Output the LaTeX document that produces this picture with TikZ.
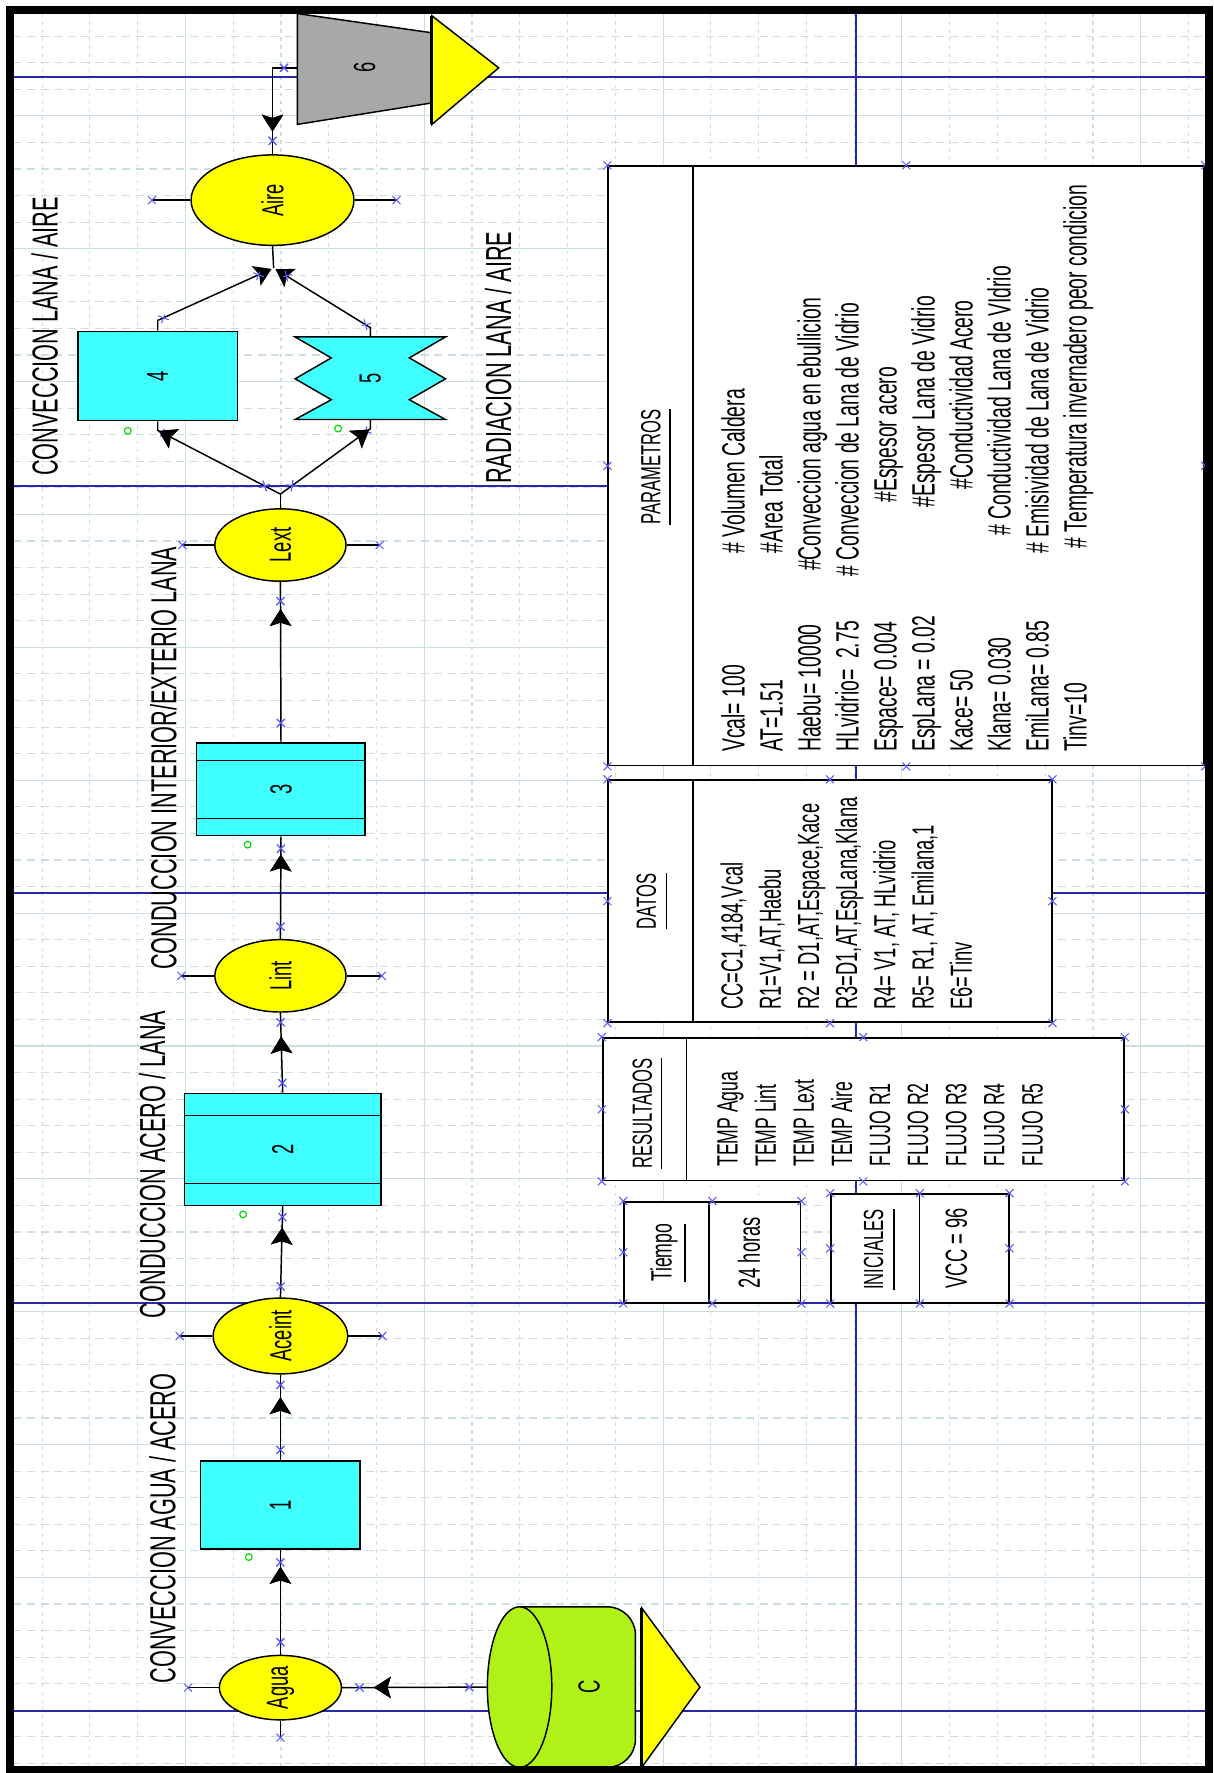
\documentclass[tikz,border=0pt]{standalone}
\usepackage{fontspec}
\usepackage{graphicx}
\usepackage{tikz}
\usetikzlibrary{arrows.meta}
\usetikzlibrary{decorations.markings}
\usetikzlibrary{shapes.geometric}

\newfontfamily\narrowfont[FakeStretch=0.6]{Liberation Sans}
\newcommand{\nsize}[1]{\narrowfont\fontsize{#1}{#1}\selectfont}

\definecolor{boxcyan}{RGB}{64,255,255}
\definecolor{nodeyellow}{RGB}{255,255,0}
\definecolor{tankgreen}{RGB}{176,242,24}
\definecolor{outgray}{RGB}{168,168,168}
\definecolor{pageblue}{RGB}{40,40,168}
\definecolor{gridgray}{RGB}{204,222,222}
\definecolor{pointblue}{RGB}{90,90,255}
\definecolor{flaggreen}{RGB}{0,215,0}

\tikzset{
	cpt/.pic={\draw[pointblue, line width=0.9pt, -] (-3.5,-3.5) -- (3.5,3.5) (-3.5,3.5) -- (3.5,-3.5);},
	arrowat/.style={postaction={decorate},
		decoration={markings, mark=at position #1 with {\arrow{Stealth[length=15pt,width=19pt,inset=3pt]}}}},
	cmarks/.style={postaction={decorate},
		decoration={markings,
			mark=at position 0.12 with {\draw[pointblue, line width=0.9pt, -] (-3.5,-3.5) -- (3.5,3.5) (-3.5,3.5) -- (3.5,-3.5);},
			mark=at position 0.88 with {\draw[pointblue, line width=0.9pt, -] (-3.5,-3.5) -- (3.5,3.5) (-3.5,3.5) -- (3.5,-3.5);}}}
}

\begin{document}
\begin{tikzpicture}[x=1pt, y=-1pt]
	
	\useasboundingbox (0,0) rectangle (1073,1568);
	\fill[white] (0,0) rectangle (1073,1568);
	
	\tikzstyle{gridsolid}=[gridgray, line width=1pt]
	\tikzstyle{griddash}=[gridgray, line width=1pt, dash pattern=on 7pt off 5pt]
	\tikzstyle{griddot}=[gridgray, line width=1pt, dash pattern=on 3pt off 4pt]
	\tikzstyle{pageline}=[pageblue, line width=1.6pt]
	\tikzstyle{ell}=[ellipse, draw, fill=nodeyellow, line width=1.3pt, inner sep=0pt, font=\nsize{27}]
	\tikzstyle{blk}=[rectangle, draw, fill=boxcyan, line width=1.3pt, inner sep=0pt, font=\nsize{27}]
	\tikzstyle{conn}=[line width=1.3pt]
	\tikzstyle{stub}=[line width=1.3pt]
	\tikzstyle{flag}=[flaggreen, line width=1pt]
	\tikzstyle{tbox}=[rectangle, draw, fill=white, line width=1.6pt, inner sep=0pt]
	\tikzstyle{ttl}=[rotate=90, anchor=base, inner sep=0pt, font=\nsize{24.5}]
	\tikzstyle{tmid}=[rotate=90, anchor=base, inner sep=0pt, font=\nsize{27}]
	\tikzstyle{lbl}=[rotate=90, anchor=base west, inner sep=0pt, font=\nsize{32}]
	\tikzstyle{ptxt}=[rotate=90, anchor=base west, inner sep=0pt, font=\nsize{28.5}]
	\tikzstyle{dtxt}=[rotate=90, anchor=base west, inner sep=0pt, font=\nsize{27}]
	\tikzstyle{rtxt}=[rotate=90, anchor=base west, inner sep=0pt, font=\nsize{26}]
	
	% grid
	\foreach \k in {-3,...,21} {
		\pgfmathsetmacro{\gx}{164+42.24*\k}
		\pgfmathtruncatemacro{\gm}{mod(\k+15,5)}
		\ifnum\gm=0
			\draw[gridsolid] (\gx,12) -- (\gx,1562);
		\else
			\draw[griddot] (\gx,12) -- (\gx,1562);
		\fi
	}
	\foreach \k in {-48,...,17} {
		\pgfmathsetmacro{\gy}{1160+23.5*\k}
		\pgfmathtruncatemacro{\gm}{mod(\k+50,5)}
		\ifnum\gm=0
			\draw[gridsolid] (12,\gy) -- (1066,\gy);
		\else
			\draw[griddash] (12,\gy) -- (1066,\gy);
		\fi
	}
	\foreach \py in {68,430,790,1152,1513} {
		\draw[pageline] (12,\py) -- (1066,\py);
	}
	\draw[pageline] (757,12) -- (757,1562);
	
	% chain of nodes
	\node[ell, minimum width=108pt, minimum height=57pt] (ag) at (248,1492.5) {\rotatebox{90}{Agua}};
	\node[blk, minimum width=141pt, minimum height=78pt] (b1) at (248,1331) {\rotatebox{90}{1}};
	\node[ell, minimum width=119pt, minimum height=67pt] (ac) at (248,1181.5) {\rotatebox{90}{Aceint}};
	\node[blk, minimum width=174pt, minimum height=99pt] (b2) at (250,1016.5) {\rotatebox{90}{2}};
	\node[ell, minimum width=116pt, minimum height=64pt] (li) at (248,863) {\rotatebox{90}{Lint}};
	\node[blk, minimum width=149pt, minimum height=82pt] (b3) at (248.5,698) {\rotatebox{90}{3}};
	\node[ell, minimum width=116pt, minimum height=64pt] (le) at (248,482) {\rotatebox{90}{Lext}};
	\node[blk, minimum width=141pt, minimum height=79pt] (b4) at (139.5,332.5) {\rotatebox{90}{4}};
	\draw[fill=boxcyan, line width=1.3pt] (261,298) -- (394,298) -- (362,316.5) -- (394,335) -- (362,353.5) -- (394,371)
		-- (261,371) -- (293,353.5) -- (261,335) -- (293,316.5) -- cycle;
	\node[inner sep=0pt, minimum width=133pt, minimum height=73pt, font=\nsize{27}] (b5) at (327.5,334.5) {\rotatebox{90}{5}};
	\node[ell, minimum width=144pt, minimum height=80pt] (ai) at (241,177) {\rotatebox{90}{Aire}};
	
	\draw[line width=1.3pt] ([yshift=-20pt]b2.north west) -- ([yshift=-20pt]b2.north east);
	\draw[line width=1.3pt] ([yshift=20pt]b2.south west) -- ([yshift=20pt]b2.south east);
	\draw[line width=1.3pt] ([yshift=-16pt]b3.north west) -- ([yshift=-16pt]b3.north east);
	\draw[line width=1.3pt] ([yshift=16pt]b3.south west) -- ([yshift=16pt]b3.south east);
	
	% outlet 6
	\draw[fill=outgray, line width=1.3pt] (263,12) -- (382,29) -- (382,91) -- (263,110) -- cycle;
	\draw[fill=nodeyellow, line width=1.3pt] (382,14) -- (441,60) -- (382,110) -- cycle;
	\draw[line width=2.6pt] (382,14) -- (382,110);
	\node[inner sep=0pt, font=\nsize{27}] (t6) at (322.5,60) {\rotatebox{90}{6}};
	\coordinate (t6w) at (263,60);
	
	% tank C
	\draw[fill=tankgreen, line width=1.3pt, rounded corners=25pt] (459.5,1421) -- (562,1421) -- (562,1563) -- (459.5,1563);
	\node[ellipse, draw, fill=tankgreen, line width=1.3pt, inner sep=0pt, minimum width=57pt, minimum height=142pt] (cf) at (459.5,1492) {};
	\node[inner sep=0pt, font=\nsize{27}] (cc) at (521,1492) {\rotatebox{90}{C}};
	\draw[fill=nodeyellow, line width=1.3pt] (567.5,1422) -- (619,1492) -- (567.5,1563) -- cycle;
	\draw[line width=2.6pt] (567.5,1422) -- (567.5,1563);
	
	% connectors
	\draw[conn, cmarks, arrowat=-15pt] (ag.north) -- (b1.south);
	\draw[conn, cmarks, arrowat=-20pt] (b1.north) -- (ac.south);
	\draw[conn, cmarks, arrowat=-19pt] (ac.north) -- (b2.south);
	\draw[conn, cmarks, arrowat=-21pt] (b2.north) -- (li.south);
	\draw[conn, cmarks, arrowat=-16pt] (li.north) -- (b3.south);
	\draw[conn, cmarks, arrowat=-24pt] (b3.north) -- (le.south);
	\coordinate (fork) at (248,437);
	\coordinate (join) at (242,237);
	\draw[conn] (le.north) -- (fork);
	\draw[conn, cmarks, arrowat=-9pt] (fork) -- ([yshift=-8pt]b4.south) -- (b4.south);
	\draw[conn, cmarks, arrowat=-9pt] (fork) -- ([yshift=-8pt]b5.south) -- (b5.south);
	\draw[conn, cmarks, shorten >=2pt, -{Stealth[length=15pt,width=19pt,inset=3pt]}] (b4.north) -- ([yshift=9pt]b4.north) -- (join);
	\draw[conn, cmarks, shorten >=2pt, -{Stealth[length=15pt,width=19pt,inset=3pt]}] (b5.north) -- ([yshift=8pt]b5.north) -- (join);
	\draw[conn] (join) -- (ai.south);
	\draw[conn, cmarks, arrowat=-20pt] (t6w) -| (ai.north);
	\draw[conn, cmarks, arrowat=-28pt] (cf.west) -- (ag.east);
	
	\draw[stub] (ai.west) -- ++(-34,0) pic{cpt};
	\draw[stub] (ai.east) -- ++(37,0) pic{cpt};
	\draw[stub] (le.west) -- ++(-28,0) pic{cpt};
	\draw[stub] (le.east) -- ++(29,0) pic{cpt};
	\draw[stub] (li.west) -- ++(-29,0) pic{cpt};
	\draw[stub] (li.east) -- ++(31,0) pic{cpt};
	\draw[stub] (ac.west) -- ++(-29,0) pic{cpt};
	\draw[stub] (ac.east) -- ++(30,0) pic{cpt};
	\draw[stub] (ag.west) -- ++(-27,0) pic{cpt};
	\draw[stub] (ag.south) -- ++(0,15) pic{cpt};
	
	\draw[flag] (113,381) circle[radius=3pt];
	\draw[flag] (299,379) circle[radius=3pt];
	\draw[flag] (219,747) circle[radius=3pt];
	\draw[flag] (215,1074) circle[radius=3pt];
	\draw[flag] (220,1377) circle[radius=3pt];
	
	% labels
	\node[lbl] (lab1) at (51,421) {CONVECCION LANA / AIRE};
	\node[lbl] (lab2) at (452,428) {RADIACION LANA / AIRE};
	\node[lbl] (lab3) at (156,858) {CONDUCCION INTERIOR/EXTERIO LANA};
	\node[lbl] (lab4) at (146,1166) {CONDUCCION ACERO / LANA};
	\node[lbl] (lab5) at (155,1489) {CONVECCION AGUA / ACERO};
	
	% text boxes
	\node[tbox, minimum width=527pt, minimum height=530pt] (par) at (801.5,412) {};
	\node[tbox, minimum width=392pt, minimum height=214pt] (dat) at (734,797) {};
	\node[tbox, minimum width=461pt, minimum height=126pt] (res) at (763.5,981) {};
	\node[tbox, minimum width=156pt, minimum height=89pt] (tie) at (630,1107.5) {};
	\node[tbox, minimum width=157pt, minimum height=96pt] (ini) at (813.5,1104) {};
	\draw[line width=1.6pt] ([xshift=75.5pt]par.north west) -- ([xshift=75.5pt]par.south west);
	\draw[line width=1.6pt] ([xshift=76pt]dat.north west) -- ([xshift=76pt]dat.south west);
	\draw[line width=1.6pt] ([xshift=75pt]res.north west) -- ([xshift=75pt]res.south west);
	\draw[line width=1.6pt] ([xshift=75.5pt]tie.north west) -- ([xshift=75.5pt]tie.south west);
	\draw[line width=1.6pt] ([xshift=79pt]ini.north west) -- ([xshift=79pt]ini.south west);
	\foreach \b in {par,dat,res,tie,ini} {
		\foreach \a in {north west,north,north east,east,south east,south,south west,west} {
			\pic at (\b.\a) {cpt};
		}
	}
	
	\node[ttl] (tpar) at (584,413) {PARAMETROS};
	\draw[line width=1.6pt] ([xshift=8pt]tpar.south west) -- ([xshift=8pt]tpar.south east);
	\node[ttl] (tdat) at (580,797) {DATOS};
	\draw[line width=1.6pt] ([xshift=9pt]tdat.south west) -- ([xshift=9pt]tdat.south east);
	\node[ttl] (tres) at (576.5,984.5) {RESULTADOS};
	\draw[line width=1.6pt] ([xshift=8pt]tres.south west) -- ([xshift=8pt]tres.south east);
	\node[ttl, font=\nsize{26}] (ttie) at (594,1108) {Tiempo};
	\draw[line width=1.6pt] ([xshift=6.5pt]ttie.south west) -- ([xshift=6.5pt]ttie.south east);
	\node[ttl] (tini) at (781,1105) {INICIALES};
	\draw[line width=1.6pt] ([xshift=9pt]tini.south west) -- ([xshift=9pt]tini.south east);
	\node[tmid] (hrs) at (672,1108) {24 horas};
	\node[tmid] (vcc) at (855,1104) {VCC = 96};
	
	% parametros
	\node[ptxt] (pv1) at (658.5,665) {Vcal= 100};
	\node[ptxt] (pv2) at (692.1,665) {AT=1.51};
	\node[ptxt] (pv3) at (725.7,665) {Haebu= 10000};
	\node[ptxt] (pv4) at (759.3,665) {HLvidrio=\ \ 2.75};
	\node[ptxt] (pv5) at (792.9,665) {Espace= 0.004};
	\node[ptxt] (pv6) at (826.5,665) {EspLana = 0.02};
	\node[ptxt] (pv7) at (860.1,665) {Kace= 50};
	\node[ptxt] (pv8) at (893.7,665) {Klana= 0.030};
	\node[ptxt] (pv9) at (927.3,665) {EmiLana= 0.85};
	\node[ptxt] (pv10) at (960.9,665) {Tinv=10};
	\node[ptxt] (pc1) at (658.5,489.7) {\# Volumen Caldera};
	\node[ptxt] (pc2) at (692.1,489.7) {\#Area Total};
	\node[ptxt] (pc3) at (725.7,505) {\#Conveccion agua en ebullicion};
	\node[ptxt] (pc4) at (759.3,510) {\# Conveccion de Lana de Vidrio};
	\node[ptxt] (pc5) at (792.9,444.5) {\#Espesor acero};
	\node[ptxt] (pc6) at (826.5,449) {\#Espesor Lana de Vidrio};
	\node[ptxt] (pc7) at (860.1,433) {\#Conductividad Acero};
	\node[ptxt] (pc8) at (893.7,474) {\# Conductividad Lana de VIdrio};
	\node[ptxt] (pc9) at (927.3,489.7) {\# Emisividad de Lana de Vidrio};
	\node[ptxt] (pc10) at (960.9,485) {\# Temperatura invernadero peor condicion};
	
	% datos
	\node[dtxt] (d1) at (656.7,893) {CC=C1,4184,Vcal};
	\node[dtxt] (d2) at (690.5,893) {R1=V1,AT,Haebu};
	\node[dtxt] (d3) at (724.3,893) {R2 = D1,AT,Espace,Kace};
	\node[dtxt] (d4) at (758.1,893) {R3=D1,AT,EspLana,Klana};
	\node[dtxt] (d5) at (791.9,893) {R4= V1, AT, HLvidrio};
	\node[dtxt] (d6) at (825.7,893) {R5= R1, AT, Emilana,1};
	\node[dtxt] (d7) at (859.5,893) {E6=Tinv};
	
	% resultados
	\node[rtxt] (r1) at (652.4,1032) {TEMP Agua};
	\node[rtxt] (r2) at (686.1,1032) {TEMP Lint};
	\node[rtxt] (r3) at (719.8,1032) {TEMP Lext};
	\node[rtxt] (r4) at (753.5,1032) {TEMP Aire};
	\node[rtxt] (r5) at (787.2,1032) {FLUJO R1};
	\node[rtxt] (r6) at (820.9,1032) {FLUJO R2};
	\node[rtxt] (r7) at (854.6,1032) {FLUJO R3};
	\node[rtxt] (r8) at (888.3,1032) {FLUJO R4};
	\node[rtxt] (r9) at (922.0,1032) {FLUJO R5};
	
	% frame
	\draw[line width=7pt] (8.5,8.5) rectangle (1069.5,1565.5);
	
\end{tikzpicture}
\end{document}
